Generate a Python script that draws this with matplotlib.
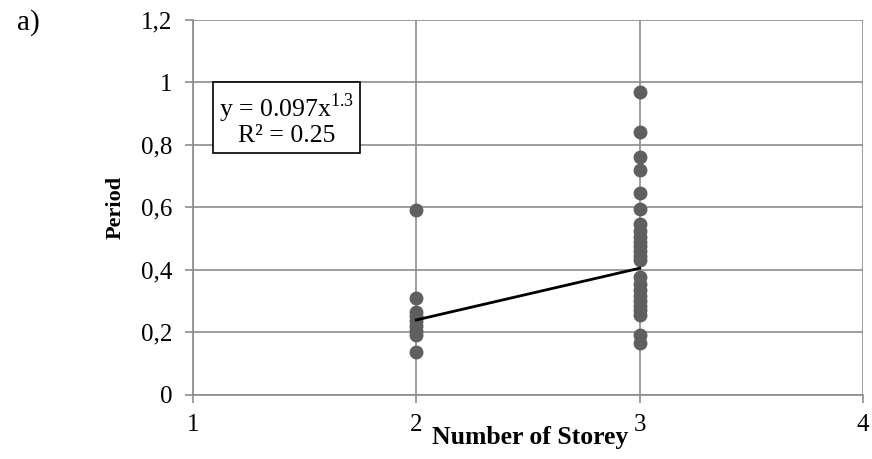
import matplotlib.pyplot as plt
import numpy as np
from matplotlib.ticker import FuncFormatter

plt.rcParams['font.family'] = ['Liberation Serif', 'DejaVu Serif']
plt.rcParams['mathtext.fontset'] = 'custom'
plt.rcParams['mathtext.rm'] = 'Liberation Serif'

# Data
storey_2 = [0.59, 0.31, 0.265, 0.25, 0.235, 0.22, 0.205, 0.19, 0.135]
storey_3 = [0.97, 0.84, 0.76, 0.72, 0.645, 0.595,
            0.545, 0.525, 0.505, 0.49, 0.475, 0.46, 0.445, 0.43,
            0.375, 0.355, 0.335, 0.315, 0.30, 0.285, 0.27, 0.255,
            0.19, 0.165]
fit_a, fit_b = 0.097, 1.3
x_ticks = [1, 2, 3, 4]
y_ticks = [0, 0.2, 0.4, 0.6, 0.8, 1.0, 1.2]

# Plot
fig = plt.figure(figsize=(8.72, 4.59), dpi=100)
ax = fig.add_axes([0.2213, 0.1405, 0.7683, 0.8160])

grid_c = '#8c8c8c'
ax.set_xlim(1, 4)
ax.set_ylim(0, 1.2)
ax.set_xticks(x_ticks)
ax.set_yticks(y_ticks)
ax.yaxis.set_major_formatter(FuncFormatter(lambda v, p: ('%g' % round(v, 1)).replace('.', ',')))
ax.grid(True, color=grid_c, linewidth=1.2)
ax.set_axisbelow(True)
for s in ['top', 'right']:
    ax.spines[s].set_visible(False)
for s in ['left', 'bottom']:
    ax.spines[s].set_color(grid_c)
    ax.spines[s].set_linewidth(1.2)
ax.tick_params(colors=grid_c, labelcolor='black', labelsize=18, length=6, width=1.2)
ax.tick_params(axis='x', pad=8)
ax.tick_params(axis='y', pad=9)

ax.plot([2] * len(storey_2), storey_2, 'o', color='#5f5f5f', markersize=9, clip_on=False)
ax.plot([3] * len(storey_3), storey_3, 'o', color='#5f5f5f', markersize=9, clip_on=False)

xf = np.array([2, 3])
ax.plot(xf, fit_a * xf ** fit_b, color='black', linewidth=2)

ax.text(1.42, 0.882, 'y = 0.097x$^{\\mathrm{1.3}}$\nR² = 0.25', ha='center', va='center',
        fontsize=18.5, linespacing=1.0,
        bbox=dict(boxstyle='square,pad=0.23', facecolor='white', edgecolor='black', linewidth=1.2))

ax.set_ylabel('Period', fontsize=16, fontweight='bold')
ax.yaxis.set_label_coords(-0.1, 0.5)
ax.set_xlabel('Number of Storey', fontsize=18.5, fontweight='bold')
ax.xaxis.set_label_coords(0.503, -0.085)
fig.text(0.02, 0.952, 'a)', fontsize=21, ha='left', va='center')

fig.savefig('out.png', dpi=100)
